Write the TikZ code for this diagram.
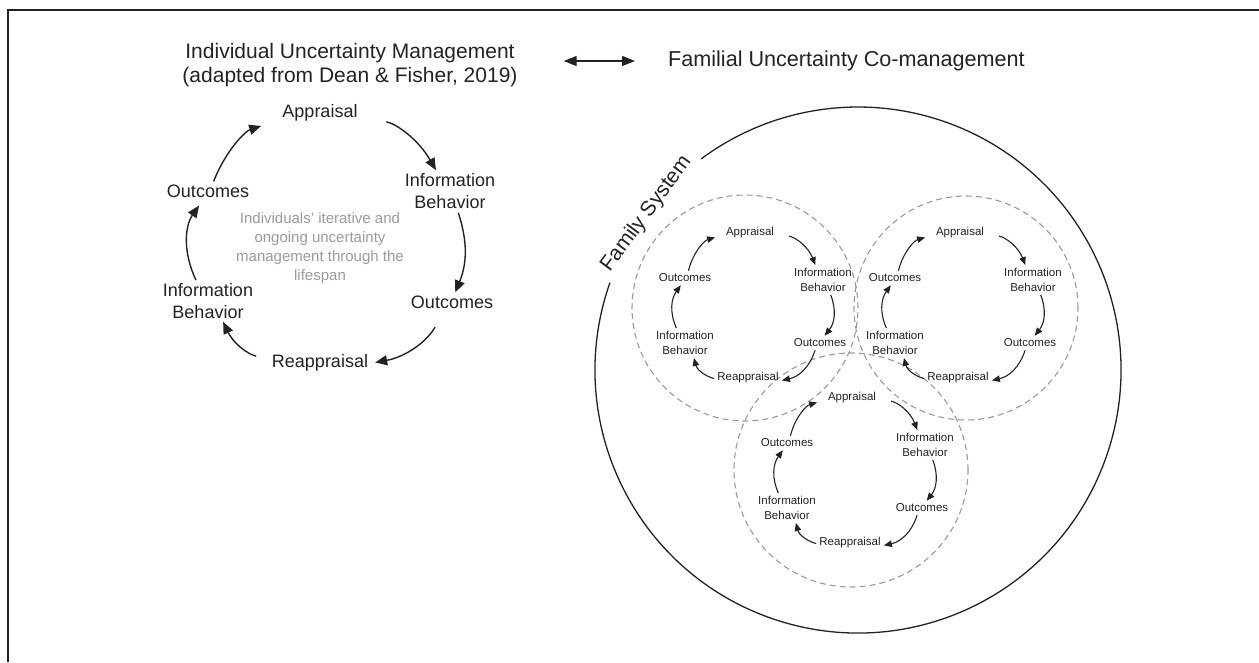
\documentclass[tikz,border=0pt]{standalone}
\usepackage{fontspec}
\setmainfont{Liberation Sans}
\usetikzlibrary{arrows.meta}
\definecolor{ink}{HTML}{222222}
\definecolor{dashgray}{HTML}{999999}
\definecolor{soft}{HTML}{9A9A9A}
\tikzset{
  titletext/.style={font=\fontsize{21}{23.5}\selectfont, text=ink, align=center, inner sep=2pt},
  bl/.style={font=\fontsize{18}{22}\selectfont, text=ink, align=center, inner sep=3pt},
  sl/.style={font=\fontsize{11.5}{15}\selectfont, text=ink, align=center, inner sep=3pt},
  gtext/.style={font=\fontsize{15}{19}\selectfont, text=soft, align=center},
  barr/.style={draw=ink, line width=1.4pt, -{Triangle[length=12pt,width=10pt]}},
  sarr/.style={draw=ink, line width=1.1pt, -{Triangle[length=8pt,width=6.5pt]}},
  dblarr/.style={draw=ink, line width=1.4pt, {Triangle[length=13pt,width=10pt]}-{Triangle[length=13pt,width=10pt]}},
  dcirc/.style={draw=dashgray, line width=1.1pt, dash pattern=on 6pt off 4pt},
  frameline/.style={draw=ink, line width=1.3pt},
}
\newcommand{\famloop}[3]{%
  \begin{scope}[shift={(#2,#3)}]
    \node[sl] (#1ap)  at (750,-233) {Appraisal};
    \node[sl] (#1ib)  at (823,-280) {Information\\Behavior};
    \node[sl] (#1oc)  at (820,-343) {Outcomes};
    \node[sl] (#1re)  at (748,-378) {Reappraisal};
    \node[sl] (#1ibl) at (685,-343) {Information\\Behavior};
    \node[sl] (#1ocl) at (685,-278) {Outcomes};
  \end{scope}
  \draw[sarr, shorten <=12pt] (#1ap) to[bend left=30] (#1ib);
  \draw[sarr] (#1ib) to[bend left=30] (#1oc);
  \draw[sarr] (#1oc) to[bend left=30] (#1re);
  \draw[sarr] (#1re) to[bend left=30] (#1ibl);
  \draw[sarr] (#1ibl) to[bend left=30] (#1ocl);
  \draw[sarr, shorten >=8pt] (#1ocl) to[bend left=30] (#1ap);
}
\begin{document}
\begin{tikzpicture}[x=1pt,y=1pt]
\useasboundingbox (0,0) rectangle (1259,-662);
\draw[frameline] (8,-662) -- (8,-10) -- (1259,-10);

% titles
\node[titletext] (lt) at (350,-65) {Individual Uncertainty Management\\(adapted from Dean \& Fisher, 2019)};
\node[titletext, font=\fontsize{21.6}{24}\selectfont, anchor=west] (rt) at (666,-61) {Familial Uncertainty Co-management};
\draw[dblarr, shorten <=44pt, shorten >=31pt] (lt.east |- rt.west) -- (rt.west);

% individual cycle
\node[bl] (ap)  at (320,-113) {Appraisal};
\node[bl] (ib1) at (450,-191) {Information\\Behavior};
\node[bl] (oc1) at (452,-302) {Outcomes};
\node[bl] (re)  at (320,-363) {Reappraisal};
\node[bl] (ib2) at (208,-301) {Information\\Behavior};
\node[bl] (oc2) at (208,-191) {Outcomes};
\node[gtext] (mid) at (320,-248) {Individuals’ iterative and\\ongoing uncertainty\\management through the\\lifespan};
\draw[barr, shorten <=26pt] (ap) to[bend left=25] (ib1);
\draw[barr, shorten <=1pt] (ib1) to[bend left=20] (oc1);
\draw[barr, shorten <=18pt, shorten >=4pt] (oc1) to[bend left=25] (re);
\draw[barr, shorten <=13pt] (re) to[bend left=25] (ib2);
\draw[barr, shorten >=6pt] (ib2) to[bend left=30] (oc2);
\draw[barr, shorten >=19pt] (oc2) to[bend left=25] (ap);

% family system
\coordinate (fc) at (858,-370);
\draw[frameline] (fc) ++(160.6:263) arc[start angle=160.6, end angle=486.6, radius=263];
\node[font=\fontsize{21}{24}\selectfont, text=ink, rotate=53.6] (fs) at ([shift={(143.6:263)}]fc) {Family System};

\draw[dcirc] (745,-308) circle[radius=113];
\draw[dcirc] (966,-308) circle[radius=112];
\draw[dcirc] (851,-470) circle[radius=117];

\famloop{A}{0}{0}
\famloop{B}{210}{0}
\famloop{C}{102}{-165}
\end{tikzpicture}
\end{document}
